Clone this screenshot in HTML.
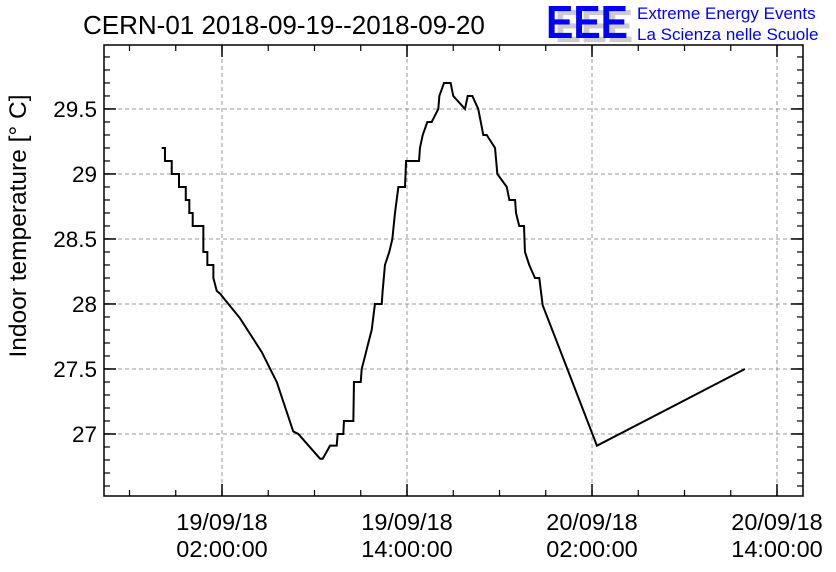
<!DOCTYPE html>
<html><head><meta charset="utf-8"><style>
body{margin:0;background:#fff;}
svg{display:block;font-family:"Liberation Sans",sans-serif;}
</style></head><body>
<svg id="c" width="836" height="572"></svg>
<script>
const times=[-1.91,-1.70,-1.70,-1.26,-1.26,-0.79,-0.79,-0.35,-0.35,-0.12,-0.12,0.10,0.10,0.79,0.79,1.05,1.05,1.44,1.44,1.66,1.87,3.17,4.58,5.55,6.62,6.95,8.36,8.53,9.01,9.44,9.50,9.87,9.91,10.52,10.56,11.0,11.06,11.28,11.49,11.71,11.92,12.36,12.42,12.57,12.85,13.05,13.22,13.44,13.87,13.94,14.78,14.84,15.02,15.32,15.60,16.03,16.10,16.40,16.83,17.00,17.76,17.94,18.24,18.62,18.95,19.17,19.71,19.86,20.47,20.64,21.01,21.07,21.28,21.59,21.65,21.93,22.30,22.58,22.80,23.88,26.32,35.92];
const temps=[29.2,29.2,29.1,29.1,29.0,29.0,28.9,28.9,28.8,28.8,28.7,28.7,28.6,28.6,28.4,28.4,28.3,28.3,28.2,28.1,28.08,27.89,27.63,27.40,27.02,27.0,26.81,26.81,26.91,26.91,27.0,27.0,27.1,27.1,27.4,27.4,27.5,27.6,27.7,27.8,28.0,28.0,28.1,28.3,28.4,28.5,28.7,28.9,28.9,29.1,29.1,29.2,29.3,29.4,29.4,29.5,29.6,29.7,29.7,29.6,29.5,29.6,29.6,29.5,29.3,29.3,29.2,29.0,28.9,28.8,28.8,28.7,28.6,28.6,28.4,28.3,28.2,28.2,27.99,27.66,26.91,27.5];
const yTicks=[27,27.5,28,28.5,29,29.5];
const yTickLabels=["27","27.5","28","28.5","29","29.5"];
const xTicks=[2,14,26,38];
const xTickLabels=[["19/09/18","02:00:00"],["19/09/18","14:00:00"],["20/09/18","02:00:00"],["20/09/18","14:00:00"]];
const L=104,R=803,T=45,B=496,xmin=-5.654,xmax=39.686,ymin=26.523,ymax=29.992;
const X=t=>L+(t-xmin)/(xmax-xmin)*(R-L);
const Y=v=>B-(v-ymin)/(ymax-ymin)*(B-T);
const svg=document.getElementById('c');const NS='http://www.w3.org/2000/svg';
function mk(tag,attrs,parent){const e=document.createElementNS(NS,tag);for(const k in attrs)e.setAttribute(k,attrs[k]);(parent||svg).appendChild(e);return e;}
let e;
yTicks.forEach((v,i)=>{
 e=mk('line',{x1:L,x2:R,y1:Y(v),y2:Y(v),stroke:'#999','stroke-dasharray':'4,3','stroke-width':1});
 
 
 e=mk('text',{x:L-7,y:Y(v)+8,'text-anchor':'end','font-size':22.5});e.textContent=yTickLabels[i];
 
 
 [L,R].forEach(xx=>{mk('line',{x1:xx,x2:xx+(xx==L?12:-12),y1:Y(v),y2:Y(v),stroke:'#000','stroke-width':1.5});});
});
for(let v=26.6;v<29.95;v+=0.1){[L,R].forEach(xx=>mk('line',{x1:xx,x2:xx+(xx==L?6:-6),y1:Y(v),y2:Y(v),stroke:'#000','stroke-width':1.2}));}
xTicks.forEach((t,i)=>{
 e=mk('line',{x1:X(t),x2:X(t),y1:T,y2:B,stroke:'#999','stroke-dasharray':'4,3','stroke-width':1});
 
 
 [T,B].forEach(yy=>mk('line',{x1:X(t),x2:X(t),y1:yy,y2:yy+(yy==T?12:-12),stroke:'#000','stroke-width':1.5}));
 e=mk('text',{x:X(t),y:530,'text-anchor':'middle','font-size':23.5});e.textContent=xTickLabels[i][0];
 
 
 e=mk('text',{x:X(t),y:557,'text-anchor':'middle','font-size':23.5});e.textContent=xTickLabels[i][1];
 
 
});
for(let t=-4;t<xmax;t+=3){[T,B].forEach(yy=>mk('line',{x1:X(t),x2:X(t),y1:yy,y2:yy+(yy==T?6:-6),stroke:'#000','stroke-width':1.2}));}
e=mk('rect',{x:L,y:T,width:R-L,height:B-T,fill:'none',stroke:'#000','stroke-width':1.5});


e=mk('polyline',{points:times.map((t,i)=>X(t)+','+Y(temps[i])).join(' '),fill:'none',stroke:'#000','stroke-width':2});


e=mk('text',{x:0,y:0,'font-size':24.5,'text-anchor':'middle',transform:'translate(26,226) rotate(-90)'});e.textContent='Indoor temperature [° C]';


e=mk('text',{x:83,y:34,'font-size':26});e.textContent='CERN-01 2018-09-19--2018-09-20';


e=mk('text',{x:555,y:42,'font-size':46,fill:'#ccc','font-weight':'bold',textLength:78,lengthAdjust:'spacingAndGlyphs'});e.textContent='EEE';


e=mk('text',{x:546,y:38,'font-size':46,fill:'#00f','font-weight':'bold',textLength:82,lengthAdjust:'spacingAndGlyphs'});e.textContent='EEE';


e=mk('text',{x:637,y:19,'font-size':17,fill:'#00f'});e.textContent='Extreme Energy Events';


e=mk('text',{x:637,y:40,'font-size':17,fill:'#00f'});e.textContent='La Scienza nelle Scuole';


</script>
</body></html>
